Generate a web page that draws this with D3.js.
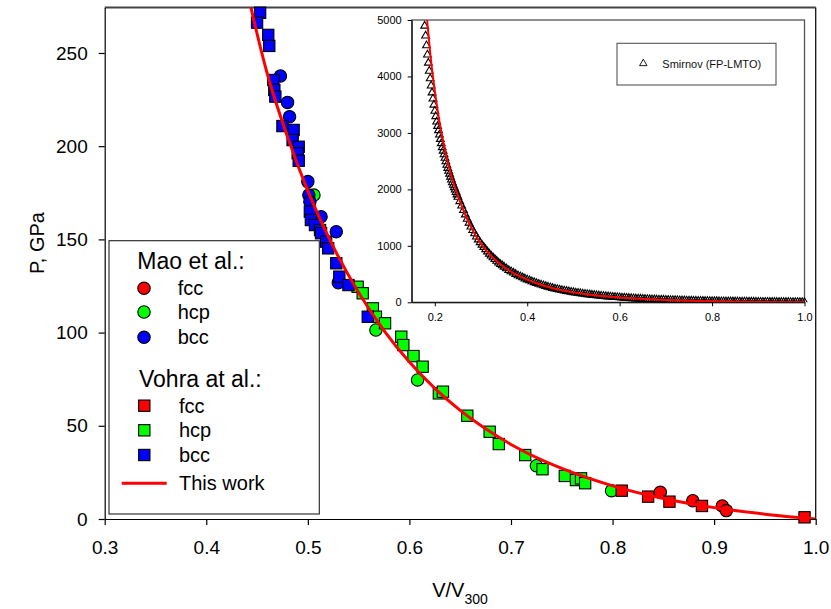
<!DOCTYPE html>
<html>
<head>
<meta charset="utf-8">
<script src="https://cdn.jsdelivr.net/npm/d3@7"></script>
<style>
  html, body { margin: 0; padding: 0; background: #fff; }
  svg { display: block; }
</style>
</head>
<body>
<svg id="chart" width="831" height="609"></svg>
<script>
// ---- Data: pressure P (GPa) versus relative volume V/V300 ----

// Mao et al. (circles)
const maoFcc = [[0.847, 14.3], [0.879, 9.8], [0.908, 7.0], [0.912, 4.5]];
const maoHcp = [[0.506, 173.8], [0.567, 101.4], [0.608, 74.6], [0.725, 28.6], [0.799, 15.2]];
const maoBcc = [[0.473, 237.7], [0.480, 223.5], [0.482, 215.8], [0.500, 181.0], [0.501, 173.8],
                [0.502, 170.2], [0.513, 162.2], [0.528, 154.1], [0.530, 126.8]];

// Vohra et al. (squares)
const vohraFcc = [[0.809, 15.2], [0.835, 12.0], [0.856, 9.3], [0.888, 7.0], [0.989, 0.9]];
const vohraHcp = [[0.549, 124.6], [0.554, 121.1], [0.564, 113.0], [0.567, 108.5], [0.576, 105.0],
                  [0.592, 97.8], [0.594, 93.3], [0.604, 87.4], [0.613, 81.7], [0.629, 67.4],
                  [0.633, 68.3], [0.657, 55.4], [0.679, 46.8], [0.688, 40.2], [0.714, 34.3],
                  [0.731, 26.7], [0.753, 23.1], [0.764, 20.9], [0.769, 21.8], [0.773, 19.2]];
const vohraBcc = [[0.453, 271.6], [0.450, 266.3], [0.461, 259.7], [0.462, 253.8], [0.466, 235.5],
                  [0.467, 230.2], [0.468, 226.6], [0.475, 210.8], [0.486, 208.7], [0.485, 203.3],
                  [0.491, 199.7], [0.490, 196.2], [0.491, 192.2], [0.502, 164.9], [0.503, 160.4],
                  [0.507, 157.7], [0.512, 155.0], [0.513, 153.3], [0.518, 148.8], [0.520, 145.2],
                  [0.528, 137.2], [0.531, 130.0], [0.540, 125.5], [0.559, 108.5]];

// Equation of state of this work
const thisWork = [[0.180, 5300], [0.185, 4850], [0.190, 4420], [0.195, 4060], [0.200, 3740],
                  [0.210, 3200], [0.220, 2770], [0.230, 2420], [0.240, 2130], [0.250, 1890],
                  [0.260, 1670], [0.270, 1475], [0.280, 1305], [0.290, 1160], [0.300, 1036],
                  [0.320, 838], [0.340, 686], [0.360, 568], [0.380, 475], [0.400, 401],
                  [0.420, 337], [0.440, 284], [0.460, 239], [0.480, 205], [0.500, 176],
                  [0.525, 146.1], [0.550, 121.5], [0.575, 101.1], [0.600, 84.2], [0.625, 70.1],
                  [0.650, 58.3], [0.675, 48.4], [0.700, 40.0], [0.750, 27.1], [0.800, 17.8],
                  [0.850, 11.0], [0.900, 6.1], [0.950, 2.6], [1.000, 0]];

// Smirnov (FP-LMTO) calculation, shown in the inset
const smirnov = [
  [0.178, 4895], [0.180, 4721], [0.182, 4549], [0.184, 4384], [0.186, 4240], [0.188, 4096],
  [0.190, 3964], [0.192, 3836], [0.194, 3713], [0.196, 3605], [0.198, 3497], [0.200, 3389],
  [0.202, 3293], [0.204, 3197], [0.206, 3120], [0.208, 3044], [0.210, 2967], [0.212, 2890],
  [0.214, 2814], [0.216, 2743], [0.218, 2681], [0.220, 2618], [0.222, 2556], [0.224, 2494],
  [0.226, 2431], [0.228, 2377], [0.230, 2326], [0.232, 2274], [0.234, 2222], [0.236, 2171],
  [0.238, 2121], [0.240, 2078], [0.242, 2035], [0.244, 1992], [0.246, 1950], [0.248, 1907],
  [0.250, 1866], [0.254, 1788], [0.258, 1709], [0.262, 1631], [0.266, 1553], [0.270, 1475],
  [0.274, 1407], [0.278, 1339], [0.282, 1276], [0.286, 1218], [0.290, 1160], [0.294, 1110],
  [0.298, 1061], [0.302, 1016], [0.306, 977], [0.310, 937], [0.314, 897], [0.318, 858],
  [0.322, 823], [0.326, 792], [0.330, 762], [0.334, 732], [0.338, 701], [0.342, 674],
  [0.346, 651], [0.350, 627], [0.355, 598], [0.360, 568], [0.365, 545], [0.370, 522],
  [0.375, 498], [0.380, 475], [0.385, 456], [0.390, 438], [0.395, 419], [0.400, 401],
  [0.405, 385], [0.410, 369], [0.415, 353], [0.420, 337], [0.425, 324], [0.430, 310],
  [0.435, 297], [0.440, 284], [0.445, 273], [0.450, 262], [0.455, 250], [0.460, 239],
  [0.465, 230], [0.470, 222], [0.475, 213], [0.480, 205], [0.485, 198], [0.490, 190],
  [0.495, 183], [0.500, 176], [0.505, 170], [0.510, 164], [0.515, 158], [0.520, 152],
  [0.525, 146], [0.530, 141], [0.535, 136], [0.540, 131], [0.545, 126], [0.550, 121.5],
  [0.555, 117], [0.560, 113], [0.565, 109], [0.570, 105], [0.575, 101], [0.580, 98],
  [0.585, 94], [0.590, 91], [0.595, 88], [0.600, 84], [0.605, 81], [0.610, 79],
  [0.615, 76], [0.620, 73], [0.625, 70], [0.630, 68], [0.635, 65], [0.640, 63],
  [0.645, 61], [0.650, 58], [0.655, 56], [0.660, 54], [0.665, 52], [0.670, 50],
  [0.675, 48], [0.680, 47], [0.685, 45], [0.690, 43], [0.695, 42], [0.700, 40],
  [0.705, 39], [0.710, 37], [0.715, 36], [0.720, 35], [0.725, 34], [0.730, 32],
  [0.735, 31], [0.740, 30], [0.745, 28], [0.750, 27], [0.755, 26], [0.760, 25],
  [0.765, 24], [0.770, 23], [0.775, 22], [0.780, 21], [0.785, 20], [0.790, 20],
  [0.795, 19], [0.800, 18], [0.805, 17], [0.810, 17], [0.815, 16], [0.820, 15],
  [0.825, 14], [0.830, 14], [0.835, 13], [0.840, 12], [0.845, 12], [0.850, 11],
  [0.855, 11], [0.860, 10], [0.865, 10], [0.870, 9], [0.875, 9], [0.880, 8],
  [0.885, 8], [0.890, 7], [0.895, 7], [0.900, 6], [0.905, 6], [0.910, 5],
  [0.915, 5], [0.920, 5], [0.925, 4], [0.930, 4], [0.935, 4], [0.940, 3],
  [0.945, 3], [0.950, 3], [0.955, 2], [0.960, 2], [0.965, 2], [0.970, 1.5],
  [0.975, 1.3], [0.980, 1], [0.985, 0.8], [0.990, 0.5], [0.995, 0.3], [1.000, 0]
];

// Axis ticks and labels
const mainXTicks = [0.3, 0.4, 0.5, 0.6, 0.7, 0.8, 0.9, 1.0];
const mainYTicks = [0, 50, 100, 150, 200, 250];
const insetXTicks = [0.2, 0.4, 0.6, 0.8, 1.0];
const insetYTicks = [0, 1000, 2000, 3000, 4000, 5000];
const legendHeadings = ["Mao et al.:", "Vohra at al.:"];
const phaseLabels = ["fcc", "hcp", "bcc"];
const curveLabel = "This work";
const insetLegendLabel = "Smirnov (FP-LMTO)";

// ---- Styling ----
const FONT = "'Liberation Sans', Arial, Helvetica, sans-serif";
const phaseColors = ["#ff0000", "#00ff00", "#0000ff"];
const CIRCLE_R = 6.2;
const SQUARE = 11.3;

const svg = d3.select("#chart");
svg.append("rect").attr("width", 831).attr("height", 609).attr("fill", "#fff");

// ---- Main plot ----
const x = d3.scaleLinear().domain([0.3, 1.0]).range([104.7, 815.7]);
const y = d3.scaleLinear().domain([0, 274.4]).range([519, 7.5]);

const defs = svg.append("defs");
defs.append("clipPath").attr("id", "mainClip").append("rect")
  .attr("x", x.range()[0]).attr("y", y.range()[1])
  .attr("width", x.range()[1] - x.range()[0]).attr("height", y.range()[0] - y.range()[1]);

// frame: top and right borders
svg.append("line")
  .attr("x1", x.range()[0]).attr("x2", x.range()[1])
  .attr("y1", y.range()[1]).attr("y2", y.range()[1])
  .attr("stroke", "#444").attr("stroke-width", 2);
svg.append("line")
  .attr("x1", x.range()[1]).attr("x2", x.range()[1])
  .attr("y1", y.range()[1]).attr("y2", y.range()[0])
  .attr("stroke", "#111").attr("stroke-width", 1.3);

const gx = svg.append("g")
  .attr("transform", `translate(0,${y.range()[0]})`)
  .call(d3.axisBottom(x).tickValues(mainXTicks).tickFormat(d3.format(".1f"))
    .tickSize(6).tickSizeOuter(0).tickPadding(16));
gx.attr("font-size", 19).attr("font-family", FONT);

const gy = svg.append("g")
  .attr("transform", `translate(${x.range()[0]},0)`)
  .call(d3.axisLeft(y).tickValues(mainYTicks).tickFormat(d3.format("d"))
    .tickSize(6).tickSizeOuter(0).tickPadding(11));
gy.attr("font-size", 19).attr("font-family", FONT);

[gx, gy].forEach(g => {
  g.selectAll("text").attr("fill", "#000");
  g.selectAll("line,path").attr("stroke", "#000").attr("stroke-width", 1.2);
});

// axis titles
svg.append("text")
  .attr("transform", "translate(44,243) rotate(-90)")
  .attr("text-anchor", "middle").attr("font-family", FONT).attr("font-size", 20)
  .text("P, GPa");
const xt = svg.append("text")
  .attr("x", 460).attr("y", 597).attr("text-anchor", "middle")
  .attr("font-family", FONT).attr("font-size", 20);
xt.append("tspan").text("V/V");
xt.append("tspan").attr("font-size", 14).attr("dy", 7).text("300");

// markers
const plot = svg.append("g");
function drawCircles(g, data, color, sx, sy) {
  g.append("g").selectAll("circle").data(data).join("circle")
    .attr("cx", d => sx(d[0])).attr("cy", d => sy(d[1])).attr("r", CIRCLE_R)
    .attr("fill", color).attr("stroke", "#000").attr("stroke-width", 1.1);
}
function drawSquares(g, data, color, sx, sy) {
  g.append("g").selectAll("rect").data(data).join("rect")
    .attr("x", d => sx(d[0]) - SQUARE / 2).attr("y", d => sy(d[1]) - SQUARE / 2)
    .attr("width", SQUARE).attr("height", SQUARE)
    .attr("fill", color).attr("stroke", "#000").attr("stroke-width", 1.1);
}
[maoFcc, maoHcp, maoBcc].forEach((s, i) => drawCircles(plot, s, phaseColors[i], x, y));
[vohraFcc, vohraHcp, vohraBcc].forEach((s, i) => drawSquares(plot, s, phaseColors[i], x, y));

// EOS curve
const mainLine = d3.line().x(d => x(d[0])).y(d => y(d[1])).curve(d3.curveMonotoneX);
svg.append("path")
  .datum(thisWork.filter(d => d[0] >= 0.42))
  .attr("clip-path", "url(#mainClip)")
  .attr("d", mainLine)
  .attr("fill", "none").attr("stroke", "#ff0000").attr("stroke-width", 3);

// ---- Legend (main) ----
const lg = svg.append("g");
lg.append("rect").attr("x", 109).attr("y", 240.7).attr("width", 210.3).attr("height", 273.3)
  .attr("fill", "#fff").attr("stroke", "#222").attr("stroke-width", 1.1);
const headY = [269.3, 386.7];
const rowY = [[288.3, 312, 337.3], [405.7, 430.3, 455]];
legendHeadings.forEach((h, gi) => {
  lg.append("text").attr("x", gi === 0 ? 137.3 : 139).attr("y", headY[gi])
    .attr("font-family", FONT).attr("font-size", 23).text(h);
  phaseLabels.forEach((p, i) => {
    const cy = rowY[gi][i];
    if (gi === 0) {
      lg.append("circle").attr("cx", 144).attr("cy", cy).attr("r", CIRCLE_R)
        .attr("fill", phaseColors[i]).attr("stroke", "#000").attr("stroke-width", 1.1);
    } else {
      lg.append("rect").attr("x", 144.3 - SQUARE / 2).attr("y", cy - SQUARE / 2)
        .attr("width", SQUARE).attr("height", SQUARE)
        .attr("fill", phaseColors[i]).attr("stroke", "#000").attr("stroke-width", 1.1);
    }
    lg.append("text").attr("x", gi === 0 ? 177.7 : 179).attr("y", cy + 6.8)
      .attr("font-family", FONT).attr("font-size", 20).text(p);
  });
});
lg.append("line").attr("x1", 121.7).attr("x2", 166.7).attr("y1", 483.3).attr("y2", 483.3)
  .attr("stroke", "#ff0000").attr("stroke-width", 3);
lg.append("text").attr("x", 179).attr("y", 490).attr("font-family", FONT)
  .attr("font-size", 20).text(curveLabel);

// ---- Inset ----
const xi = d3.scaleLinear().domain([0.15, 1.0]).range([411.7, 804.5]);
const yi = d3.scaleLinear().domain([0, 5000]).range([302.3, 20]);

defs.append("clipPath").attr("id", "insetClip").append("rect")
  .attr("x", xi.range()[0]).attr("y", yi.range()[1] - 4)
  .attr("width", xi.range()[1] - xi.range()[0] + 4)
  .attr("height", yi.range()[0] - yi.range()[1] + 4);

const inset = svg.append("g");
inset.append("rect")
  .attr("x", xi.range()[0]).attr("y", yi.range()[1])
  .attr("width", xi.range()[1] - xi.range()[0]).attr("height", yi.range()[0] - yi.range()[1])
  .attr("fill", "#fff").attr("stroke", "#555").attr("stroke-width", 1.3);

const gxi = inset.append("g")
  .attr("transform", `translate(0,${yi.range()[0]})`)
  .call(d3.axisBottom(xi).tickValues(insetXTicks).tickFormat(d3.format(".1f"))
    .tickSize(4).tickSizeOuter(0).tickPadding(7));
const gyi = inset.append("g")
  .attr("transform", `translate(${xi.range()[0]},0)`)
  .call(d3.axisLeft(yi).tickValues(insetYTicks).tickFormat(d3.format("d"))
    .tickSize(4).tickSizeOuter(0).tickPadding(6));
[gxi, gyi].forEach(g => {
  g.attr("font-size", 11).attr("font-family", FONT);
  g.selectAll("text").attr("fill", "#000");
  g.selectAll("line,path").attr("stroke", "#000").attr("stroke-width", 1);
});

const tri = d3.symbol().type(d3.symbolTriangle).size(26);
inset.append("g").attr("clip-path", "url(#insetClip)")
  .selectAll("path").data(smirnov).join("path")
  .attr("transform", d => `translate(${xi(d[0])},${yi(d[1])})`)
  .attr("d", tri)
  .attr("fill", "none").attr("stroke", "#000").attr("stroke-width", 1.1);

const insetLine = d3.line().x(d => xi(d[0])).y(d => yi(d[1])).curve(d3.curveMonotoneX);
defs.append("clipPath").attr("id", "insetLineClip").append("rect")
  .attr("x", xi.range()[0]).attr("y", yi.range()[1])
  .attr("width", xi.range()[1] - xi.range()[0] + 2)
  .attr("height", yi.range()[0] - yi.range()[1]);
inset.append("path")
  .datum(thisWork)
  .attr("clip-path", "url(#insetLineClip)")
  .attr("d", insetLine)
  .attr("fill", "none").attr("stroke", "#ff0000").attr("stroke-width", 2);

// inset legend
inset.append("rect").attr("x", 617).attr("y", 43.3).attr("width", 159).attr("height", 41.7)
  .attr("fill", "#fff").attr("stroke", "#555").attr("stroke-width", 1.1);
inset.append("path")
  .attr("transform", "translate(643.3,63.5)")
  .attr("d", d3.symbol().type(d3.symbolTriangle).size(24))
  .attr("fill", "none").attr("stroke", "#000").attr("stroke-width", 0.9);
inset.append("text").attr("x", 662.3).attr("y", 68).attr("font-family", FONT)
  .attr("font-size", 11).attr("fill", "#111").text(insetLegendLabel);
</script>
</body>
</html>
